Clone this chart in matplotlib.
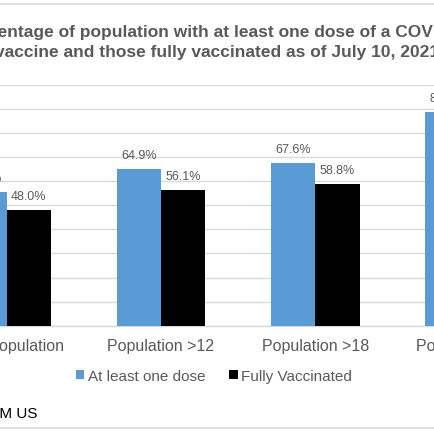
import matplotlib
matplotlib.use("Agg")
import matplotlib.pyplot as plt
from matplotlib.lines import Line2D
import numpy as np

plt.rcParams['font.family'] = ['Liberation Sans', 'DejaVu Sans']

# data
categories = ["Total Population", "Population >12", "Population >18", "Population >65"]
one_dose = [55.4, 64.9, 67.6, 88.6]
fully_vax = [48.0, 56.1, 58.8, 78.9]
series_names = ["At least one dose", "Fully Vaccinated"]
title_lines = ["Percentage of population with at least one dose of a COVID-19",
               "vaccine and those fully vaccinated as of July 10, 2021"]

blue = "#5B9BD5"
grey_txt = "#595959"
grid_c = "#D9D9D9"
H = 435.0

fig = plt.figure(figsize=(4.35, 4.35), dpi=100)
# the picture is a crop of a wider chart, so the axes run past the figure edges
ax = fig.add_axes([-70.5 / H, 108.3 / H, 617.3 / H, 241 / H])

x = np.arange(len(categories))
w = 0.287
b1 = ax.bar(x - w / 2, one_dose, w, color=blue, label=series_names[0], zorder=3)
b2 = ax.bar(x + w / 2, fully_vax, w, color="black", label=series_names[1], zorder=3)

# value labels
for bars, vals in [(b1, one_dose), (b2, fully_vax)]:
    for r, v in zip(bars, vals):
        ax.annotate(f"{v:.1f}%", (r.get_x() + r.get_width() / 2, r.get_height()),
                    xytext=(0, 8), textcoords="offset points", ha="center",
                    va="baseline", fontsize=9, color=grey_txt)

ax.set_xlim(-0.5, len(categories) - 0.5)
ax.set_ylim(0, 100)
ax.set_yticks(np.arange(0, 101, 10))
ax.set_yticklabels([])
ax.grid(axis="y", color=grid_c, linewidth=1.0, zorder=0)
ax.set_xticks(x)
ax.set_xticklabels(categories, fontsize=11.5, color=grey_txt)
ax.tick_params(axis="both", length=0)
ax.tick_params(axis="x", pad=9)
for s in ["top", "right", "left"]:
    ax.spines[s].set_visible(False)
ax.spines["bottom"].set_color(grid_c)
ax.spines["bottom"].set_linewidth(1.0)

# title, two centred lines
fig.text(0.5, 1 - 36.7 / H, title_lines[0], ha="center", va="baseline",
         fontsize=12.5, fontweight="bold", color=grey_txt)
fig.text(0.5, 1 - 57.3 / H, title_lines[1], ha="center", va="baseline",
         fontsize=12.5, fontweight="bold", color=grey_txt)

ax.legend(loc="center", bbox_to_anchor=(214 / H, 1 - 377 / H),
          bbox_transform=fig.transFigure, ncol=2, frameon=False,
          fontsize=11, labelcolor=grey_txt, handlelength=0.55, handleheight=0.55,
          handletextpad=0.25, columnspacing=1.55)

fig.text(37 / H, 1 - 414 / H, "SOURCE: DATA FROM US", ha="right", va="center",
         fontsize=11, color="black")

# chart area border
for yy in [1 - 5 / H, 1 - 429 / H]:
    fig.add_artist(Line2D([0, 1], [yy, yy], color=grid_c, linewidth=1.2))

fig.savefig("out.png", dpi=100)
